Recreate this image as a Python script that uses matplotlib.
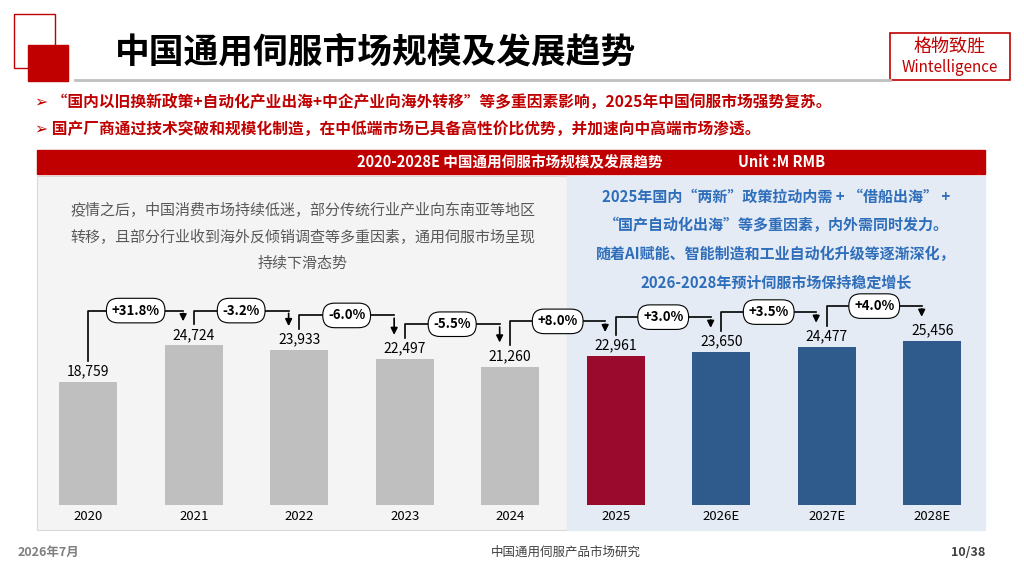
import matplotlib.pyplot as plt
from matplotlib.patches import Rectangle

plt.rcParams['font.family'] = ['Noto Sans CJK SC', 'DejaVu Sans']

years = ['2020', '2021', '2022', '2023', '2024', '2025', '2026E', '2027E', '2028E']
values = [18759, 24724, 23933, 22497, 21260, 22961, 23650, 24477, 25456]
growth = ['+31.8%', '-3.2%', '-6.0%', '-5.5%', '+8.0%', '+3.0%', '+3.5%', '+4.0%']
colors = ['#BFBFBF'] * 5 + ['#990A2C'] + ['#2F5A8C'] * 3

fig = plt.figure(figsize=(10.24, 5.85), dpi=100)
bg = fig.add_axes([0, 0, 1, 1])
bg.set_xlim(0, 1024)
bg.set_ylim(585, 0)
bg.axis('off')

# header decoration
bg.add_patch(Rectangle((14, 14), 41, 54, fill=False, ec='#C00000', lw=1))
bg.add_patch(Rectangle((28, 45), 40, 36, color='#C00000'))
bg.plot([75, 890], [80, 80], color='#BFBFBF', lw=2)
bg.text(115, 52, '中国通用伺服市场规模及发展趋势', fontsize=25, fontweight='bold', va='center')
bg.add_patch(Rectangle((890, 33), 120, 47, fill=False, ec='#C00000', lw=1.2))
bg.text(950, 47, '格物致胜', fontsize=13, color='#C00000', ha='center', va='center')
bg.text(950, 68, 'Wintelligence', fontsize=11, color='#C00000', ha='center', va='center')

bg.text(35, 103, '➢ “国内以旧换新政策+自动化产业出海+中企产业向海外转移”等多重因素影响，2025年中国伺服市场强势复苏。',
        fontsize=11.3, color='#C00000', fontweight='bold', va='center')
bg.text(35, 129, '➢ 国产厂商通过技术突破和规模化制造，在中低端市场已具备高性价比优势，并加速向中高端市场渗透。',
        fontsize=11.3, color='#C00000', fontweight='bold', va='center')

# chart header and panels
bg.add_patch(Rectangle((37, 150), 948, 24, color='#C00000'))
bg.text(510, 162, '2020-2028E 中国通用伺服市场规模及发展趋势', fontsize=10.5, color='white',
        fontweight='bold', ha='center', va='center')
bg.text(738, 162, 'Unit :M RMB', fontsize=10.5, color='white', fontweight='bold', va='center')
bg.add_patch(Rectangle((37, 176), 530, 354, color='#F4F4F4', ec='#D9D9D9', lw=0.8))
bg.add_patch(Rectangle((567, 176), 418, 354, color='#E4EBF4'))

left_txt = ['疫情之后，中国消费市场持续低迷，部分传统行业产业向东南亚等地区',
            '转移，且部分行业收到海外反倾销调查等多重因素，通用伺服市场呈现',
            '持续下滑态势']
for i, t in enumerate(left_txt):
    bg.text(303, 210 + i * 27, t, fontsize=10.8, color='#595959', ha='center', va='center')
right_txt = ['2025年国内“两新”政策拉动内需 + “借船出海” +',
             '“国产自动化出海”等多重因素，内外需同时发力。',
             '随着AI赋能、智能制造和工业自动化升级等逐渐深化，',
             '2026-2028年预计伺服市场保持稳定增长']
for i, t in enumerate(right_txt):
    bg.text(776, 197 + i * 28.5, t, fontsize=10.8, color='#2F6EBA', fontweight='bold',
            ha='center', va='center')

# footer
bg.text(18, 552, '2026年7月', fontsize=9, color='#7F7F7F', fontweight='bold', va='center')
bg.text(566, 552, '中国通用伺服产品市场研究', fontsize=9, color='#404040', ha='center', va='center')
bg.text(985, 552, '10/38', fontsize=9, color='#404040', fontweight='bold', ha='right', va='center')

# bars
ylo, yhi = -1332, 52080
ax = fig.add_axes([37 / 1024, 1 - 505 / 585, 948 / 1024, (505 - 178) / 585])
ax.set_xlim(-0.485, 8.5)
ax.set_ylim(ylo, yhi)
ax.axis('off')
x = list(range(len(years)))
ax.bar(x, [v - ylo for v in values], bottom=ylo, width=0.55, color=colors)
for i, v in enumerate(values):
    ax.text(i, v + 600, f'{v:,}', ha='center', va='bottom', fontsize=10)
    ax.text(i, ylo - 800, years[i], ha='center', va='top', fontsize=9.5)

for i, g in enumerate(growth):
    a, b = values[i], values[i + 1]
    level = max(a, b) + 5700
    x0, x1 = i, i + 1 - 0.1
    ax.plot([x0, x0, x1], [a + 3500, level, level], color='black', lw=1.2)
    ax.annotate('', xy=(x1, b + 3500), xytext=(x1, level),
                arrowprops=dict(arrowstyle='-|>', color='black', lw=1.2, mutation_scale=10))
    ax.text((x0 + x1) / 2, level, g, ha='center', va='center', fontsize=9.5, fontweight='bold',
            bbox=dict(boxstyle='round,pad=0.4,rounding_size=0.9', fc='white', ec='black', lw=0.8))

fig.savefig('out.png', dpi=100)
